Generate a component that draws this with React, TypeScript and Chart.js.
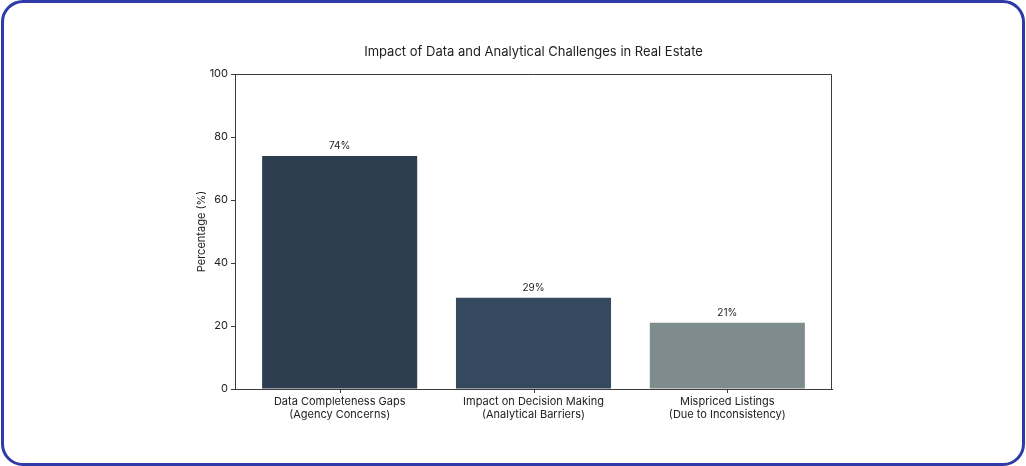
import { useEffect, useRef } from 'react';
import { Chart, registerables } from 'chart.js';

Chart.register(...registerables);

const categories = [
  ['Data Completeness Gaps', '(Agency Concerns)'],
  ['Impact on Decision Making', '(Analytical Barriers)'],
  ['Mispriced Listings', '(Due to Inconsistency)'],
];
const percentages = [74, 29, 21];
const barColors = ['#2c3e50', '#34495e', '#7f8c8d'];
const yTicks = [0, 20, 40, 60, 80, 100];
const chartTitle = 'Impact of Data and Analytical Challenges in Real Estate';

const FONT = 'Inter, "Open Sans", sans-serif';

// full frame (top + right), x tick marks, title, value labels
const extrasPlugin = {
  id: 'extras',
  afterDraw(chart: Chart) {
    const { ctx, chartArea } = chart;
    const { left, right, top, bottom } = chartArea;
    const xScale: any = chart.scales.x;
    ctx.save();
    ctx.strokeStyle = '#3a3a3a';
    ctx.lineWidth = 1;
    ctx.beginPath();
    ctx.moveTo(left, top + 0.5);
    ctx.lineTo(right - 0.5, top + 0.5);
    ctx.lineTo(right - 0.5, bottom);
    categories.forEach((_, i) => {
      const px = Math.round(xScale.getPixelForValue(i)) + 0.5;
      ctx.moveTo(px, bottom);
      ctx.lineTo(px, bottom + 4);
    });
    ctx.stroke();

    ctx.fillStyle = '#222';
    ctx.font = `13px ${FONT}`;
    ctx.textAlign = 'center';
    ctx.textBaseline = 'middle';
    ctx.fillText(chartTitle, (left + right) / 2, top - 22);

    const meta = chart.getDatasetMeta(0);
    ctx.font = `10px ${FONT}`;
    ctx.textBaseline = 'bottom';
    meta.data.forEach((bar: any, i: number) => {
      ctx.fillText(`${percentages[i]}%`, bar.x, bar.y - 5);
    });
    ctx.restore();
  },
};

function BarChart() {
  const canvasRef = useRef<HTMLCanvasElement>(null);

  useEffect(() => {
    if (!canvasRef.current) return;
    const chart = new Chart(canvasRef.current, {
      type: 'bar',
      data: {
        datasets: [
          {
            data: percentages.map((v, i) => ({ x: i, y: v })),
            backgroundColor: barColors,
            borderWidth: 0,
            barPercentage: 0.8,
            categoryPercentage: 1,
          },
        ],
      },
      options: {
        animation: false,
        responsive: false,
        devicePixelRatio: 1,
        layout: { padding: { left: 175, right: 194, top: 74, bottom: 25 } },
        plugins: {
          legend: { display: false },
          tooltip: { enabled: false },
        },
        scales: {
          x: {
            type: 'linear',
            offset: false,
            min: -0.54,
            max: categories.length - 1 + 0.54,
            afterBuildTicks: (scale: any) => {
              scale.ticks = categories.map((_, i) => ({ value: i }));
            },
            grid: { offset: false, drawOnChartArea: false, drawTicks: false, tickLength: 4, color: '#3a3a3a' },
            border: { color: '#3a3a3a', width: 1 },
            ticks: {
              color: '#222',
              font: { family: FONT, size: 11 },
              padding: 6,
              maxRotation: 0,
              autoSkip: false,
              callback: (v: any) => categories[Math.round(Number(v))],
            },
            afterFit: (scale: any) => {
              scale.height = 52;
            },
          },
          y: {
            min: 0,
            max: 100,
            afterBuildTicks: (scale: any) => {
              scale.ticks = yTicks.map((v) => ({ value: v }));
            },
            ticks: {
              color: '#222',
              font: { family: FONT, size: 11 },
              padding: 3,
            },
            grid: { drawOnChartArea: false, tickLength: 4, color: '#3a3a3a' },
            border: { color: '#3a3a3a', width: 1 },
            title: {
              display: true,
              text: 'Percentage (%)',
              color: '#222',
              font: { family: FONT, size: 11 },
              padding: { top: 20, bottom: 0 },
            },
            afterFit: (scale: any) => {
              scale.width = 60;
            },
          },
        },
      },
      plugins: [extrasPlugin],
    });
    return () => chart.destroy();
  }, []);

  return <canvas ref={canvasRef} width={1026} height={466} style={{ display: 'block' }} />;
}

export default function App() {
  useEffect(() => {
    document.body.style.margin = '0';
  }, []);
  return (
    <div style={{ position: 'relative', width: 1026, height: 466, background: '#fff', overflow: 'hidden' }}>
      <BarChart />
      <div
        style={{
          position: 'absolute',
          left: 1,
          top: 0,
          width: 1024,
          height: 466,
          boxSizing: 'border-box',
          border: '3px solid #2f3aa9',
          borderRadius: 22,
          pointerEvents: 'none',
        }}
      />
    </div>
  );
}
